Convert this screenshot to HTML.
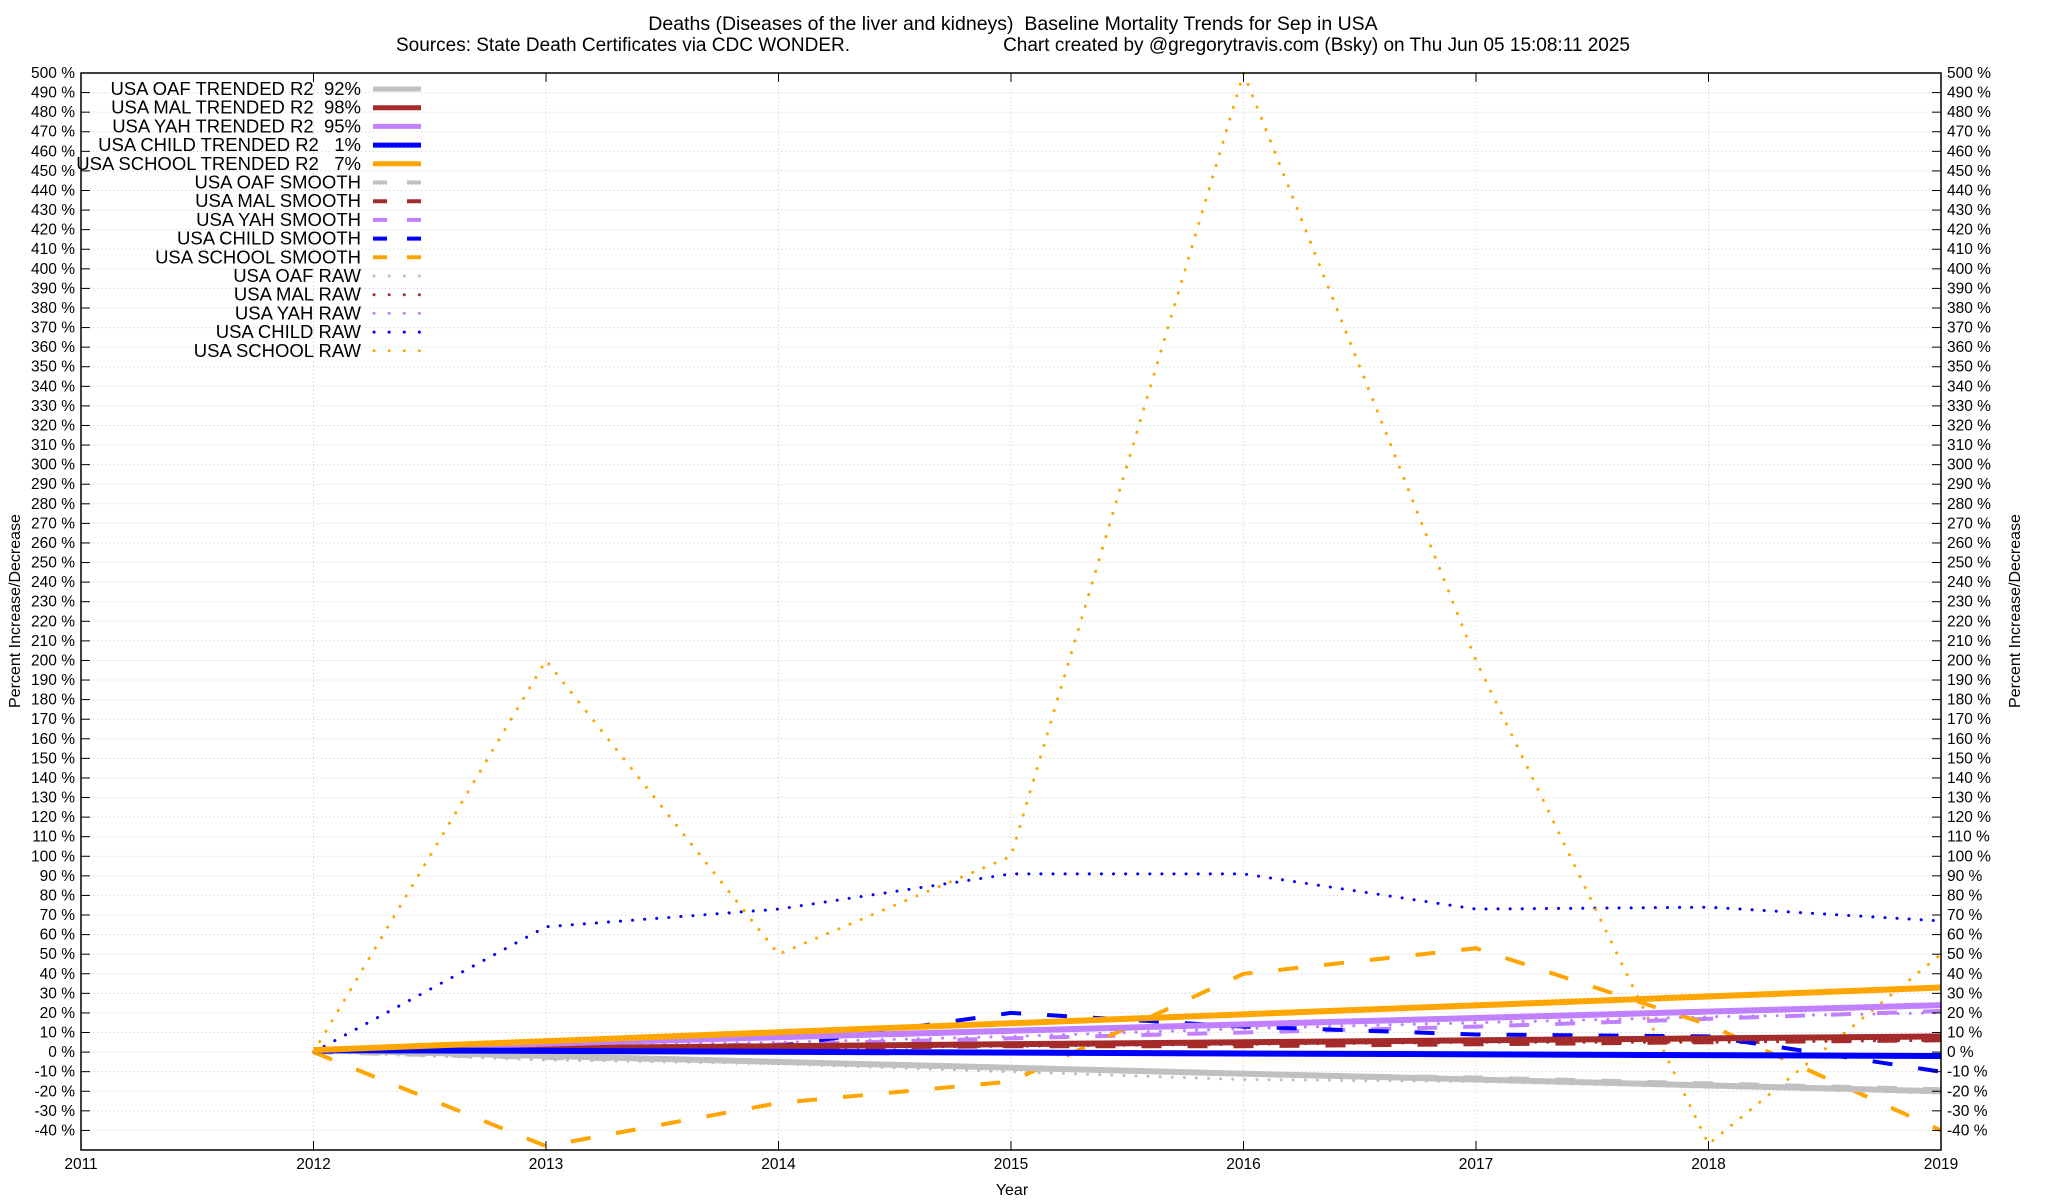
<!DOCTYPE html>
<html><head><meta charset="utf-8">
<style>
html,body{margin:0;padding:0;background:#fff;}
svg{display:block;font-family:"Liberation Sans",sans-serif;}
.pre{white-space:pre;}
</style></head>
<body>
<svg id="chart" width="2048" height="1200" viewBox="0 0 2048 1200" xmlns="http://www.w3.org/2000/svg">
<text class="pre" x="1013" y="30" font-size="19.5" text-anchor="middle">Deaths (Diseases of the liver and kidneys)  Baseline Mortality Trends for Sep in USA</text>
<text x="396" y="51" font-size="19">Sources: State Death Certificates via CDC WONDER.</text>
<text x="1630" y="51" font-size="19" text-anchor="end">Chart created by @gregorytravis.com (Bsky) on Thu Jun 05 15:08:11 2025</text>
<g id="grid"></g>
<g id="series"></g>
<g id="axes"></g>
<g id="legend"></g>
<text transform="translate(20,611) rotate(-90)" font-size="16" text-anchor="middle">Percent Increase/Decrease</text>
<text transform="translate(2020,611) rotate(-90)" font-size="16" text-anchor="middle">Percent Increase/Decrease</text>
<text x="1012" y="1195" font-size="16" text-anchor="middle">Year</text>
</svg>
<script>
const years = [2012, 2013, 2014, 2015, 2016, 2017, 2018, 2019];
const xTicks = [2011, 2012, 2013, 2014, 2015, 2016, 2017, 2018, 2019];
const yTicks = [-40,-30,-20,-10,0,10,20,30,40,50,60,70,80,90,100,110,120,130,140,150,160,170,180,190,200,210,220,230,240,250,260,270,280,290,300,310,320,330,340,350,360,370,380,390,400,410,420,430,440,450,460,470,480,490,500];
const oafTrend = [1, -20];
const malTrend = [1, 8];
const yahTrend = [1, 24];
const childTrend = [1, -2];
const schoolTrend = [1, 33];
const oafSmooth = [0, -3, -5, -8, -11, -13, -16, -19];
const malSmooth = [0, 1, 2, 3, 3, 4, 5, 6];
const yahSmooth = [0, 2, 4, 7, 10, 13, 17, 21];
const childSmooth = [0, 1, 3, 20, 13, 9, 8, -10];
const schoolSmooth = [0, -48, -26, -15, 40, 53, 14, -40];
const oafRaw = [0, -4, -6, -10, -14, -15, -18, -21];
const malRaw = [0, 1, 2, 3, 4, 5, 5, 6];
const yahRaw = [0, 3, 5, 8, 12, 15, 18, 20];
const childRaw = [0, 64, 73, 91, 91, 73, 74, 67];
const schoolRaw = [0, 200, 50, 100, 500, 200, -47, 50];

const L=81, R=1941, T=73, B=1150, XMIN=2011, XMAX=2019, YMIN=-50, YMAX=500;
const NS="http://www.w3.org/2000/svg";
function xs(v){return L+(v-XMIN)/(XMAX-XMIN)*(R-L);}
function ys(v){return B-(v-YMIN)/(YMAX-YMIN)*(B-T);}
function mk(tag,attrs,parent){const e=document.createElementNS(NS,tag);for(const k in attrs)e.setAttribute(k,attrs[k]);parent.appendChild(e);return e;}
const grid=document.getElementById('grid'), axes=document.getElementById('axes'), ser=document.getElementById('series'), leg=document.getElementById('legend');

yTicks.forEach(v=>{
  const y=ys(v);
  const g=mk('line',{x1:L,x2:R,y1:y,y2:y,stroke:'#c8c8c8','stroke-width':1,'stroke-dasharray':'1,3'},grid);
  
  
  mk('line',{x1:L,x2:L+9,y1:y,y2:y,stroke:'#000','stroke-width':1},axes);
  mk('line',{x1:R-9,x2:R,y1:y,y2:y,stroke:'#000','stroke-width':1},axes);
  const t1=mk('text',{x:L-6,y:y+5,'font-size':15.5,'text-anchor':'end'},axes);t1.textContent=v+' %';
  
  
  const t2=mk('text',{x:R+6,y:y+5,'font-size':15.5,'text-anchor':'start'},axes);t2.textContent=v+' %';
  
  
});
xTicks.forEach(v=>{
  const x=xs(v);
  const g=mk('line',{x1:x,x2:x,y1:T,y2:B,stroke:'#c8c8c8','stroke-width':1,'stroke-dasharray':'1,3'},grid);
  
  
  mk('line',{x1:x,x2:x,y1:B,y2:B-9,stroke:'#000','stroke-width':1},axes);
  mk('line',{x1:x,x2:x,y1:T,y2:T+9,stroke:'#000','stroke-width':1},axes);
  const t=mk('text',{x:x,y:B+19,'font-size':15.5,'text-anchor':'middle'},axes);t.textContent=v;
  
  
});
const frame=mk('rect',{x:L,y:T,width:R-L,height:B-T,fill:'none',stroke:'#000','stroke-width':1.5},axes);



const COL={oaf:'#c0c0c0',mal:'#a52a2a',yah:'#c080ff',child:'#0000ff',school:'#ffa500'};
const styles={
  trend:{w:6,dash:null,cap:'butt'},
  smooth:{w:4,dash:'20,26',cap:'butt'},
  raw:{w:3,dash:'0.1,12',cap:'round'}
};
function pathFrom(xv,yv){return xv.map((x,i)=>(i?'L':'M')+xs(x).toFixed(1)+','+ys(yv[i]).toFixed(1)).join('');}
function draw(xv,yv,col,st,name){
  const a={d:pathFrom(xv,yv),fill:'none',stroke:col,'stroke-width':st.w,'stroke-linecap':st.cap,'stroke-linejoin':'round'};
  if(st.dash)a['stroke-dasharray']=st.dash;
  const p=mk('path',a,ser);
  
  
}
const ends=[years[0],years[years.length-1]];
draw(years,oafRaw,COL.oaf,styles.raw,'oaf-raw-line');
draw(years,malRaw,COL.mal,styles.raw,'mal-raw-line');
draw(years,yahRaw,COL.yah,styles.raw,'yah-raw-line');
draw(years,childRaw,COL.child,styles.raw,'child-raw-line');
draw(years,schoolRaw,COL.school,styles.raw,'school-raw-line');
draw(years,oafSmooth,COL.oaf,styles.smooth,'oaf-smooth-line');
draw(years,malSmooth,COL.mal,styles.smooth,'mal-smooth-line');
draw(years,yahSmooth,COL.yah,styles.smooth,'yah-smooth-line');
draw(years,childSmooth,COL.child,styles.smooth,'child-smooth-line');
draw(years,schoolSmooth,COL.school,styles.smooth,'school-smooth-line');
draw(ends,oafTrend,COL.oaf,styles.trend,'oaf-trend-line');
draw(ends,malTrend,COL.mal,styles.trend,'mal-trend-line');
draw(ends,yahTrend,COL.yah,styles.trend,'yah-trend-line');
draw(ends,childTrend,COL.child,styles.trend,'child-trend-line');
draw(ends,schoolTrend,COL.school,styles.trend,'school-trend-line');

const legendItems=[
 ['USA OAF TRENDED R2  92%',COL.oaf,'trend'],['USA MAL TRENDED R2  98%',COL.mal,'trend'],
 ['USA YAH TRENDED R2  95%',COL.yah,'trend'],['USA CHILD TRENDED R2   1%',COL.child,'trend'],
 ['USA SCHOOL TRENDED R2   7%',COL.school,'trend'],
 ['USA OAF SMOOTH',COL.oaf,'smooth'],['USA MAL SMOOTH',COL.mal,'smooth'],['USA YAH SMOOTH',COL.yah,'smooth'],
 ['USA CHILD SMOOTH',COL.child,'smooth'],['USA SCHOOL SMOOTH',COL.school,'smooth'],
 ['USA OAF RAW',COL.oaf,'raw'],['USA MAL RAW',COL.mal,'raw'],['USA YAH RAW',COL.yah,'raw'],
 ['USA CHILD RAW',COL.child,'raw'],['USA SCHOOL RAW',COL.school,'raw']
];
legendItems.forEach((it,i)=>{
  const y=89+i*18.7;
  const g=mk('g',{},leg);
  
  
  const t=mk('text',{x:361,y:y+6,'font-size':18.5,'text-anchor':'end','class':'pre'},g);
  t.textContent=it[0];
  const st=it[2];
  const a={x1:373,x2:421,y1:y,y2:y,stroke:it[1]};
  if(st==='trend'){a['stroke-width']=5;}
  else if(st==='smooth'){a['stroke-width']=4;a['stroke-dasharray']='14,20';}
  else {a['stroke-width']=3;a['stroke-dasharray']='0.1,15';a['stroke-linecap']='round';a.x1=374;}
  mk('line',a,g);
});
</script>
</body></html>
